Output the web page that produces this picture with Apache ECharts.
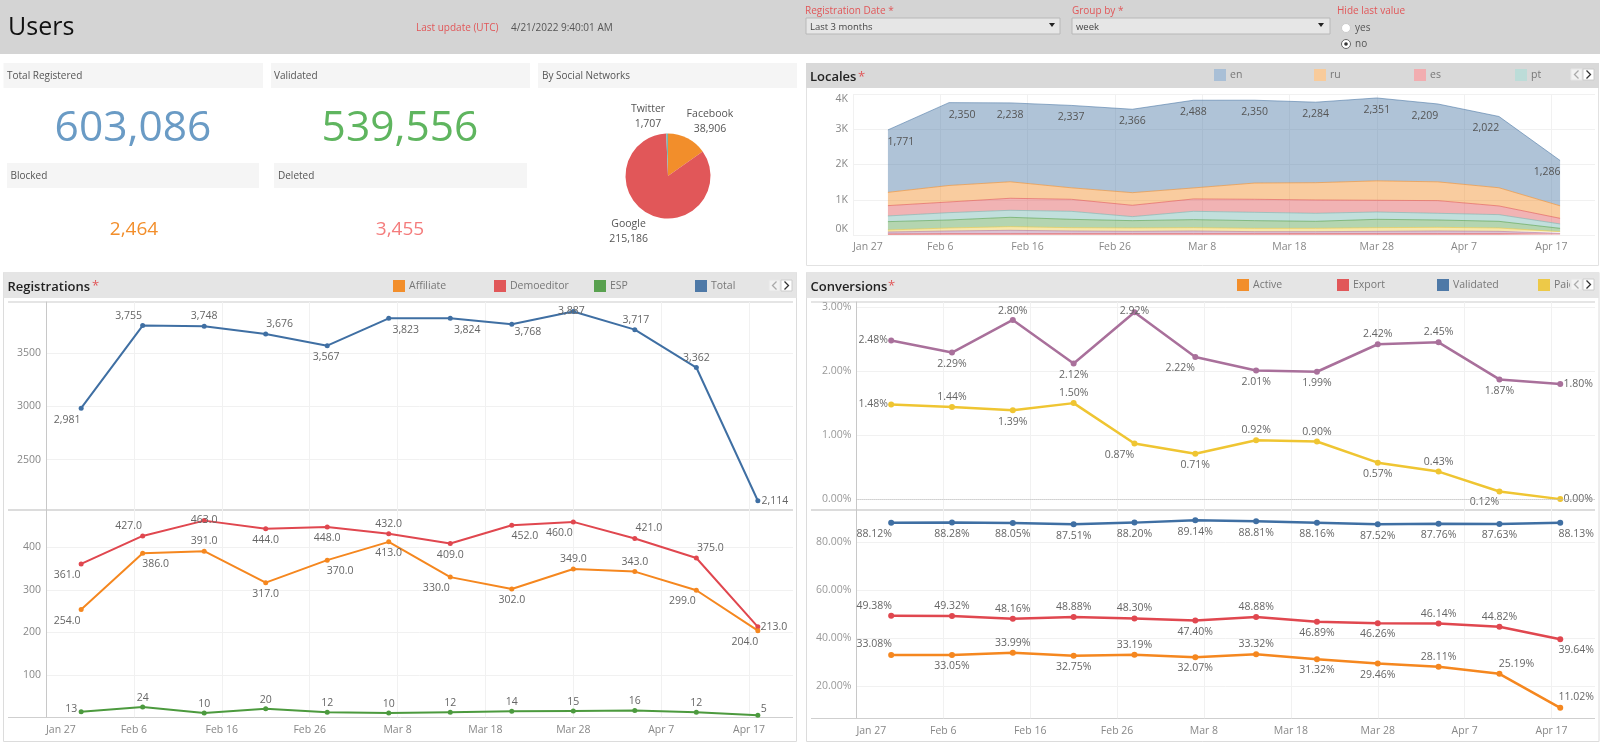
<!DOCTYPE html>
<html>
<head>
<meta charset="utf-8">
<title>Users</title>
<style>
  html, body { margin: 0; padding: 0; background: #fff; }
  #main { width: 1600px; height: 742px; }
</style>
<script src="https://cdn.jsdelivr.net/npm/echarts@6/dist/echarts.min.js"></script>
</head>
<body>
<div id="main"></div>
<script>
  // days counted from Jan 27, weeks start on Monday
  var weekDays = [4, 11, 18, 25, 32, 39, 46, 53, 60, 67, 74, 81]
  var tickDays = [0, 10, 20, 30, 40, 50, 60, 70, 80]
  var tickLabels = ['Jan 27', 'Feb 6', 'Feb 16', 'Feb 26', 'Mar 8', 'Mar 18', 'Mar 28', 'Apr 7', 'Apr 17']

  // Locales, stacked bottom to top
  var localeNames = ['l8', 'l7', 'l6', 'l5', 'pt', 'es', 'ru', 'en']
  var l8Values = [28, 38, 38, 38, 38, 38, 38, 38, 38, 38, 38, 28]
  var l7Values = [57, 76, 95, 76, 66, 76, 57, 57, 66, 76, 66, 19]
  var l6Values = [57, 85, 104, 94, 95, 94, 94, 94, 104, 104, 95, 48]
  var l5Values = [237, 227, 265, 237, 208, 228, 218, 199, 237, 208, 189, 94]
  var ptValues = [161, 208, 199, 227, 114, 236, 237, 228, 208, 190, 190, 124]
  var esValues = [293, 303, 341, 341, 322, 351, 369, 378, 332, 359, 246, 160]
  var ruValues = [377, 468, 468, 326, 358, 312, 461, 490, 551, 533, 516, 355]
  var enValues = [1771, 2350, 2238, 2337, 2366, 2488, 2350, 2284, 2351, 2209, 2022, 1286]

  // Registrations
  var totalValues = [2981, 3755, 3748, 3676, 3567, 3823, 3824, 3768, 3887, 3717, 3362, 2114]
  var demoValues = [361, 427, 463, 444, 448, 432, 409, 452, 460, 421, 375, 213]
  var affiliateValues = [254, 386, 391, 317, 370, 413, 330, 302, 349, 343, 299, 204]
  var espValues = [13, 24, 10, 20, 12, 10, 12, 14, 15, 16, 12, 5]

  // Conversions, percent
  var otherValues = [2.48, 2.29, 2.80, 2.12, 2.92, 2.22, 2.01, 1.99, 2.42, 2.45, 1.87, 1.80]
  var paidValues = [1.48, 1.44, 1.39, 1.50, 0.87, 0.71, 0.92, 0.90, 0.57, 0.43, 0.12, 0.00]
  var validatedValues = [88.12, 88.28, 88.05, 87.51, 88.20, 89.14, 88.81, 88.16, 87.52, 87.76, 87.63, 88.13]
  var exportValues = [49.38, 49.32, 48.16, 48.88, 48.30, 47.40, 48.88, 46.89, 46.26, 46.14, 44.82, 39.64]
  var activeValues = [33.08, 33.05, 33.99, 32.75, 33.19, 32.07, 33.32, 31.32, 29.46, 28.11, 25.19, 11.02]

  // Social networks
  var socialNames = ['Facebook', 'Google', 'Twitter']
  var socialValues = [38906, 215186, 1707]

  // KPI tiles
  var kpiNames = ['Total Registered', 'Validated', 'Blocked', 'Deleted']
  var kpiValues = [603086, 539556, 2464, 3455]

  // label nudges in px from each point, kept apart from the values
  var U = 11, D = 11.5, T = -10
  var enNudge = [[13, 12], [13, 12], [0, 12], [0, 12], [0, 12], [0, 12], [0, 12], [0, 12], [0, 12], [-13, 12], [-13, 12], [-13, 12]]
  var totalNudge = [[-14, D], [-14, T], [0, T], [14, T], [-1, D], [17, D], [17, D], [16, 8], [-2, 0], [1, T], [0, T], [17, 0]]
  var demoNudge = [[-14, D], [-14, T], [0, -1], [0, U], [0, U], [0, T], [0, U], [13, U], [-14, U], [14, T], [14, T], [16, 0]]
  var affiliateNudge = [[-14, D], [13, U], [0, T], [0, U], [13, U], [0, U], [-14, U], [0, U], [0, T], [0, T], [-14, U], [-13, U]]
  var espNudge = [[-10, -3], [0, -9], [0, -9], [0, -9], [0, -9], [0, -9], [0, -9], [0, -9], [0, -9], [0, -9], [0, -9], [6, -6]]
  var otherNudge = [[-18, 0], [0, D], [0, -9], [0, D], [0, -1], [-15, U], [0, D], [0, D], [0, T], [0, T], [0, D], [18, 0]]
  var paidNudge = [[-18, 0], [0, T], [0, D], [0, T], [-15, 12], [0, D], [0, T], [0, T], [0, D], [0, T], [-15, U], [18, 0]]
  var validatedNudge = [[-17, D], [0, D], [0, D], [0, D], [0, D], [0, D], [0, D], [0, D], [0, D], [0, D], [0, D], [16, D]]
  var exportNudge = [[-17, T], [0, T], [0, T], [0, T], [0, T], [0, U], [0, T], [0, U], [0, U], [0, T], [0, T], [16, U]]
  var activeNudge = [[-17, -11], [0, U], [0, T], [0, U], [0, T], [0, U], [0, T], [0, U], [0, U], [0, T], [17, T], [16, -11]]

  var FONT = '"Open Sans", sans-serif'
  var BLUE = '#4e79a7', ORANGE = '#f28e2b', RED = '#e15759', TEAL = '#76b7b2'
  var GREEN = '#59a14f', YELLOW = '#edc948', MAUVE = '#b07aa1'
  var localeColors = ['#e15759', MAUVE, YELLOW, GREEN, TEAL, RED, ORANGE, BLUE]
  var fmtNum = v => v.toLocaleString('en-US')

  var myChart = echarts.init(document.getElementById('main'))

  //---- panels, text and controls ----
  var shapes = []
  function rect(x, y, w, h, fill, stroke) {
    shapes.push({ type: 'rect', silent: true, shape: { x: x, y: y, width: w, height: h }, style: { fill: fill || 'none', stroke: stroke || 'none', lineWidth: 1 } })
  }
  function text(str, x, y, size, color, opts) {
    opts = opts || {}
    shapes.push({
      type: 'text', silent: true,
      style: { text: str, x: x, y: y, fill: color, font: (opts.weight || 'normal') + ' ' + size + 'px ' + FONT, textAlign: opts.align || 'left', textVerticalAlign: 'middle' }
    })
  }
  function hline(x1, x2, y, color, w) {
    shapes.push({ type: 'line', silent: true, shape: { x1: x1, y1: y, x2: x2, y2: y }, style: { stroke: color, lineWidth: w || 1 } })
  }
  function arrowDown(x, y) {
    shapes.push({ type: 'polygon', silent: true, shape: { points: [[x - 3, y - 2], [x + 3, y - 2], [x, y + 2]] }, style: { fill: '#222' } })
  }
  function chevron(x, y, dir, color) {
    shapes.push({ type: 'polyline', silent: true, shape: { points: [[x - 2 * dir, y - 4], [x + 2 * dir, y], [x - 2 * dir, y + 4]] }, style: { stroke: color, lineWidth: 1.3, fill: 'none' } })
  }
  function radio(x, y, label, on) {
    shapes.push({ type: 'circle', silent: true, shape: { cx: x, cy: y, r: 4.5 }, style: { fill: '#fff', stroke: on ? '#666' : '#ccc', lineWidth: 1 } })
    if (on) shapes.push({ type: 'circle', silent: true, shape: { cx: x, cy: y, r: 1.8 }, style: { fill: '#333' } })
    text(label, x + 9, y, 10, '#555')
  }
  function navButtons(x, y) {
    rect(x, y, 11, 11, '#f2f2f2', '#e6e6e6')
    chevron(x + 5.5, y + 5.5, -1, '#aaa')
    rect(x + 12, y, 11, 11, '#fff', '#ccc')
    chevron(x + 17.5, y + 5.5, 1, '#333')
  }
  function legendItem(x, y, label, color) {
    rect(x, y - 6, 12, 12, color)
    text(label, x + 16, y, 10.5, '#777')
  }
  function panelHead(x, y, w, h, title, fill) {
    rect(x, y, w, h, fill)
    text(title, x + 4, y + h / 2 + 2, 13, '#222', { weight: 600 })
  }

  // header strip
  rect(0, 0, 1600, 54, '#d4d4d4')
  text('Users', 8, 28, 25, '#111')
  text('Last update (UTC)', 416, 28, 10, '#e15759')
  text('4/21/2022 9:40:01 AM', 511, 28, 10, '#555')
  text('Registration Date *', 805, 11, 10, '#e15759')
  rect(806, 18, 254, 16, '#e6e6e6', '#b8b8b8')
  text('Last 3 months', 810, 27, 9.5, '#444')
  arrowDown(1052, 25)
  text('Group by *', 1072, 11, 10, '#e15759')
  rect(1072, 18, 258, 16, '#e6e6e6', '#b8b8b8')
  text('week', 1076, 27, 9.5, '#444')
  arrowDown(1321, 25)
  text('Hide last value', 1337, 11, 10, '#e15759')
  radio(1346, 28, 'yes', false)
  radio(1346, 44, 'no', true)

  // KPI tiles
  rect(3.5, 63, 259.5, 25, '#f5f5f5')
  text(kpiNames[0], 7, 76, 10, '#555')
  text(fmtNum(kpiValues[0]), 133, 129, 42.5, '#6a9bc5', { align: 'center' })
  rect(271, 63, 259, 25, '#f5f5f5')
  text(kpiNames[1], 274, 76, 10, '#555')
  text(fmtNum(kpiValues[1]), 400, 129, 42.5, '#5fb55f', { align: 'center' })
  rect(538, 63, 259, 25, '#f5f5f5')
  text('By Social Networks', 542, 76, 10, '#555')
  rect(7, 163, 252, 25, '#f5f5f5')
  text(kpiNames[2], 10.5, 176, 10, '#555')
  text(fmtNum(kpiValues[2]), 134, 230, 19, '#f28e2b', { align: 'center' })
  rect(274, 163, 253, 25, '#f5f5f5')
  text(kpiNames[3], 278, 176, 10, '#555')
  text(fmtNum(kpiValues[3]), 400, 230, 19, '#f47c7c', { align: 'center' })

  // Locales frame
  rect(806.5, 63.5, 792, 202, '#fff', '#e2e2e2')
  panelHead(806, 63, 793, 25, 'Locales', '#d9d9d9')
  text('*', 858, 77, 13, '#e15759')
  legendItem(1214, 75, 'en', '#a9bfd6')
  legendItem(1314, 75, 'ru', '#f8cb9b')
  legendItem(1414, 75, 'es', '#f2adb0')
  legendItem(1515, 75, 'pt', '#bcdcd8')
  navButtons(1571, 69)

  // Registrations frame
  rect(3.5, 272.5, 793, 469, '#fff', '#dcdcdc')
  panelHead(3.5, 272, 793, 26, 'Registrations', '#e5e5e5')
  text('*', 92, 286, 13, '#e15759')
  legendItem(393, 286, 'Affiliate', ORANGE)
  legendItem(494, 286, 'Demoeditor', RED)
  legendItem(594, 286, 'ESP', GREEN)
  legendItem(695, 286, 'Total', BLUE)
  navButtons(769, 280)
  hline(8, 793, 302, '#e5e5e5', 2)
  hline(8, 793, 510, '#dcdcdc', 2)
  hline(8, 793, 717.5, '#cfcfcf', 1)

  // Conversions frame
  rect(806.5, 272.5, 792.5, 469, '#fff', '#dcdcdc')
  panelHead(806.5, 272, 792.5, 26, 'Conversions', '#e5e5e5')
  text('*', 888, 286, 13, '#e15759')
  legendItem(1237, 285, 'Active', ORANGE)
  legendItem(1337, 285, 'Export', RED)
  legendItem(1437, 285, 'Validated', BLUE)
  legendItem(1538, 285, 'Paid', YELLOW)
  rect(1570, 279, 29, 14, '#e5e5e5')
  navButtons(1571, 279)
  hline(811, 1595, 302, '#e5e5e5', 2)
  hline(811, 1595, 510, '#dcdcdc', 2)
  hline(811, 1595, 718.5, '#cfcfcf', 1)

  //---- grids and axes ----
  var grids = [
    { left: 853, top: 94, width: 742, height: 141 },
    { left: 46, top: 302, width: 747, height: 208 },
    { left: 46, top: 510, width: 747, height: 207.3 },
    { left: 856.4, top: 302, width: 738.6, height: 208 },
    { left: 856.4, top: 510, width: 738.6, height: 208.3 }
  ]

  function makeX(gridIndex, showLabels) {
    return {
      type: 'value', gridIndex: gridIndex, min: 0, max: 85,
      axisLine: { show: false },
      axisTick: { show: false, customValues: tickDays },
      axisLabel: {
        show: showLabels, customValues: tickDays, margin: 7, color: '#888', fontFamily: FONT, fontSize: 10.5,
        alignMinLabel: 'left',
        formatter: v => tickLabels[tickDays.indexOf(v)]
      },
      splitLine: { show: true, lineStyle: { color: '#f1f1f1', width: 1 } }
    }
  }
  function makeY(gridIndex, min, max, ticks, fmt, labelColor) {
    return {
      type: 'value', gridIndex: gridIndex, min: min, max: max,
      axisLine: { show: true, lineStyle: { color: '#c8c8c8' } },
      axisTick: { show: false, customValues: ticks },
      axisLabel: {
        customValues: ticks, margin: 5, color: labelColor, fontFamily: FONT, fontSize: 10.5,
        formatter: fmt
      },
      splitLine: { show: true, lineStyle: { color: '#f1f1f1', width: 1 } }
    }
  }

  // stacking needs a category x, one category per day keeps the same spacing
  var dayNames = []
  for (var d = 0; d <= 85; d++) dayNames.push(String(d))
  var isTickDay = i => tickDays.indexOf(i) >= 0
  var localeX = {
    type: 'category', gridIndex: 0, boundaryGap: false, data: dayNames,
    axisLine: { show: false },
    axisTick: { show: false },
    axisLabel: {
      interval: isTickDay, margin: 7, color: '#888', fontFamily: FONT, fontSize: 10.5,
      alignMinLabel: 'left',
      formatter: v => tickLabels[tickDays.indexOf(Number(v))]
    },
    splitLine: { show: true, interval: isTickDay, lineStyle: { color: '#f1f1f1', width: 1 } }
  }

  var xAxes = [localeX, makeX(1, false), makeX(2, true), makeX(3, false), makeX(4, true)]
  var localeY = makeY(0, 0, 4000, [0, 1000, 2000, 3000, 4000], v => (v / 1000) + 'K', '#888')
  localeY.axisLine.show = false
  localeY.axisLabel.verticalAlignMinLabel = 'bottom'
  localeY.axisLabel.verticalAlignMaxLabel = 'top'
  var yAxes = [
    localeY,
    makeY(1, 2027, 3976, [2500, 3000, 3500], v => String(v), '#888'),
    makeY(2, 0, 488, [100, 200, 300, 400], v => String(v), '#888'),
    makeY(3, -0.17, 3.08, [0, 1, 2, 3], v => v.toFixed(2) + '%', '#999'),
    makeY(4, 6.67, 93.46, [20, 40, 60, 80], v => v.toFixed(2) + '%', '#999')
  ]

  //---- series ----
  function lineSeries(name, values, nudge, axisIndex, color, fmt, width, dot) {
    return {
      type: 'line', name: name, xAxisIndex: axisIndex, yAxisIndex: axisIndex,
      symbol: 'circle', symbolSize: dot, animation: false, silent: true,
      lineStyle: { color: color, width: width },
      itemStyle: { color: color },
      z: 3,
      data: values.map((v, i) => ({
        value: [weekDays[i], v],
        label: {
          show: true, position: 'inside', offset: nudge[i], color: '#666', fontFamily: FONT, fontSize: 10.5,
          formatter: fmt(v)
        }
      }))
    }
  }
  var asInt = v => fmtNum(v)
  var asOne = v => v.toFixed(1)
  var asPct = v => v.toFixed(2) + '%'

  // en gets a tiny symbol only so that its labels have something to hang on
  var localeSets = [l8Values, l7Values, l6Values, l5Values, ptValues, esValues, ruValues, enValues]
  var series = localeSets.map((values, k) => ({
    type: 'line', name: localeNames[k], xAxisIndex: 0, yAxisIndex: 0, stack: 'locales',
    symbol: localeNames[k] === 'en' ? 'circle' : 'none', symbolSize: 0.01, showAllSymbol: true,
    animation: false, silent: true,
    lineStyle: { color: localeColors[k], width: 1, opacity: 0.6 },
    areaStyle: { color: localeColors[k], opacity: 0.45 },
    itemStyle: { color: localeColors[k] },
    data: values.map((v, i) => {
      var item = { value: [String(weekDays[i]), v] }
      if (localeNames[k] === 'en') {
        item.label = { show: true, position: 'inside', offset: enNudge[i], color: '#555', fontFamily: FONT, fontSize: 10.5, formatter: fmtNum(v) }
      }
      return item
    })
  }))

  series.push(
    lineSeries('Total', totalValues, totalNudge, 1, '#3f6fa3', asInt, 2, 5),
    lineSeries('Demoeditor', demoValues, demoNudge, 2, '#e0474f', asOne, 2, 5),
    lineSeries('Affiliate', affiliateValues, affiliateNudge, 2, '#f5871f', asOne, 2, 5),
    lineSeries('ESP', espValues, espNudge, 2, '#4c9a3e', asInt, 2, 5),
    lineSeries('Other', otherValues, otherNudge, 3, '#a9709b', asPct, 2.5, 6),
    lineSeries('Paid', paidValues, paidNudge, 3, '#efc532', asPct, 2.5, 6),
    lineSeries('Validated', validatedValues, validatedNudge, 4, '#3f6fa3', asPct, 2.5, 6),
    lineSeries('Export', exportValues, exportNudge, 4, '#e0474f', asPct, 2.5, 6),
    lineSeries('Active', activeValues, activeNudge, 4, '#f5871f', asPct, 2.5, 6)
  )
  // dotted zero line of the paid chart
  series[series.length - 4].markLine = {
    silent: true, symbol: 'none', animation: false, label: { show: false },
    lineStyle: { color: '#bbb', type: 'dotted', width: 1 },
    data: [{ yAxis: 0 }]
  }

  var pieLabelAt = [[710, 122], [628.6, 231.5], [648, 117]]
  series.push({
    type: 'pie', center: [668, 176], radius: [0, 42.5], startAngle: 90, clockwise: true,
    animation: false, silent: true, avoidLabelOverlap: false,
    label: { show: true, position: 'outside', color: '#555', fontFamily: FONT, fontSize: 10.5, lineHeight: 15, formatter: p => p.name + '\n' + fmtNum(p.value) },
    labelLine: { show: false },
    labelLayout: p => ({ x: pieLabelAt[p.dataIndex][0], y: pieLabelAt[p.dataIndex][1], align: 'center', verticalAlign: 'middle' }),
    data: socialNames.map((n, i) => ({ name: n, value: socialValues[i], itemStyle: { color: [ORANGE, RED, TEAL][i] } }))
  })

  var option = {
    backgroundColor: '#fff',
    animation: false,
    textStyle: { fontFamily: FONT },
    graphic: { elements: shapes },
    grid: grids,
    xAxis: xAxes,
    yAxis: yAxes,
    series: series
  }
  myChart.setOption(option)
</script>
</body>
</html>
